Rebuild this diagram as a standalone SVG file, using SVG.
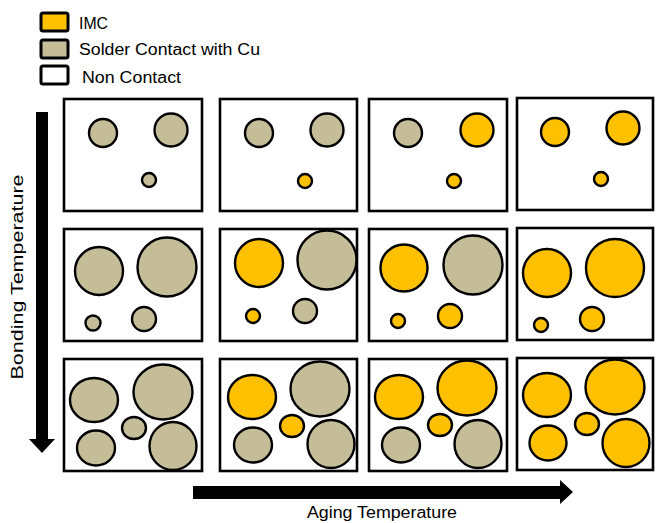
<svg xmlns="http://www.w3.org/2000/svg" width="662" height="523" viewBox="0 0 662 523">
  <style>
    .panel { fill: #ffffff; stroke: #000000; stroke-width: 2.6; }
    .key { stroke: #000000; stroke-width: 3; }
    .imc { fill: #FFC000; stroke: #000000; stroke-width: 2.4; }
    .cu { fill: #C4BD97; stroke: #000000; stroke-width: 2.4; }
    .lbl { font-family: "Liberation Sans", Arial, sans-serif; font-size: 16px; fill: #000000; }
  </style>
  <rect width="662" height="523" fill="#ffffff"/>

  <!-- legend -->
  <g id="legend">
    <rect class="key" x="41" y="13" width="27" height="18" rx="2" fill="#FFC000"/>
    <rect class="key" x="41" y="40" width="27" height="18" rx="2" fill="#C4BD97"/>
    <rect class="key" x="41" y="66" width="27" height="18" rx="2" fill="#ffffff"/>
    <text class="lbl" x="79" y="29" textLength="29" lengthAdjust="spacingAndGlyphs">IMC</text>
    <text class="lbl" x="79" y="55" textLength="181" lengthAdjust="spacingAndGlyphs">Solder Contact with Cu</text>
    <text class="lbl" x="82" y="83" textLength="99" lengthAdjust="spacingAndGlyphs">Non Contact</text>
  </g>

  <!-- axis arrows -->
  <g id="connectors">
    <path d="M36 112 H48 V439 H55 L42 453 L29 439 H36 Z" fill="#000000"/>
    <path d="M193 486 H560 V480 L573 492 L560 504 V499 H193 Z" fill="#000000"/>
  </g>
  <text class="lbl" transform="translate(23 277) rotate(-90)" text-anchor="middle" textLength="205" lengthAdjust="spacingAndGlyphs">Bonding Temperature</text>
  <text class="lbl" x="382" y="518" text-anchor="middle" textLength="150" lengthAdjust="spacingAndGlyphs">Aging Temperature</text>

  <!-- row 1 -->
  <g id="r1c1">
    <rect class="panel" x="64" y="99" width="138" height="112"/>
    <circle class="cu" cx="103" cy="133" r="14"/>
    <circle class="cu" cx="171" cy="130" r="16.5"/>
    <circle class="cu" cx="149" cy="180" r="7"/>
  </g>
  <g id="r1c2">
    <rect class="panel" x="220" y="99" width="137" height="112"/>
    <circle class="cu" cx="259" cy="133" r="14"/>
    <circle class="cu" cx="327" cy="130" r="16.5"/>
    <circle class="imc" cx="305" cy="181" r="7"/>
  </g>
  <g id="r1c3">
    <rect class="panel" x="369" y="99" width="138" height="112"/>
    <circle class="cu" cx="408" cy="133" r="14"/>
    <circle class="imc" cx="477" cy="130" r="16.5"/>
    <circle class="imc" cx="454" cy="181" r="7"/>
  </g>
  <g id="r1c4">
    <rect class="panel" x="517" y="98" width="136" height="112"/>
    <circle class="imc" cx="555" cy="132" r="14"/>
    <circle class="imc" cx="623" cy="128" r="16.5"/>
    <circle class="imc" cx="601" cy="179" r="7"/>
  </g>

  <!-- row 2 -->
  <g id="r2c1">
    <rect class="panel" x="64" y="229" width="138" height="112"/>
    <circle class="cu" cx="99" cy="271" r="24"/>
    <circle class="cu" cx="167" cy="267" r="29.5"/>
    <circle class="cu" cx="93" cy="323" r="7.5"/>
    <circle class="cu" cx="144" cy="319" r="12"/>
  </g>
  <g id="r2c2">
    <rect class="panel" x="220" y="229" width="137" height="112"/>
    <circle class="imc" cx="259" cy="263" r="24"/>
    <circle class="cu" cx="327" cy="260" r="29.5"/>
    <circle class="imc" cx="253" cy="316" r="7"/>
    <circle class="cu" cx="305" cy="311" r="12"/>
  </g>
  <g id="r2c3">
    <rect class="panel" x="369" y="229" width="138" height="112"/>
    <circle class="imc" cx="404" cy="268" r="23.5"/>
    <circle class="cu" cx="473" cy="265" r="29.5"/>
    <circle class="imc" cx="398" cy="321" r="7"/>
    <circle class="imc" cx="450" cy="316" r="12"/>
  </g>
  <g id="r2c4">
    <rect class="panel" x="517" y="228" width="136" height="112"/>
    <circle class="imc" cx="547" cy="273" r="24"/>
    <circle class="imc" cx="615" cy="268" r="29"/>
    <circle class="imc" cx="541" cy="325" r="7"/>
    <circle class="imc" cx="592" cy="319" r="12"/>
  </g>

  <!-- row 3 -->
  <g id="r3c1">
    <rect class="panel" x="64" y="359" width="138" height="112"/>
    <ellipse class="cu" cx="94" cy="400" rx="24" ry="22"/>
    <ellipse class="cu" cx="163" cy="392" rx="29.5" ry="27.5"/>
    <ellipse class="cu" cx="134" cy="428" rx="12" ry="11"/>
    <ellipse class="cu" cx="96" cy="448" rx="19" ry="17.5"/>
    <ellipse class="cu" cx="173" cy="446" rx="23.5" ry="24"/>
  </g>
  <g id="r3c2">
    <rect class="panel" x="220" y="359" width="137" height="112"/>
    <ellipse class="imc" cx="252" cy="397" rx="24" ry="22"/>
    <ellipse class="cu" cx="320" cy="389" rx="29.5" ry="27.5"/>
    <ellipse class="imc" cx="292" cy="426" rx="12" ry="11"/>
    <ellipse class="cu" cx="253" cy="445" rx="19" ry="17.5"/>
    <ellipse class="cu" cx="331" cy="444" rx="23.5" ry="24"/>
  </g>
  <g id="r3c3">
    <rect class="panel" x="369" y="359" width="138" height="112"/>
    <ellipse class="imc" cx="399" cy="397" rx="24" ry="22"/>
    <ellipse class="imc" cx="467" cy="388" rx="29.5" ry="27.5"/>
    <ellipse class="imc" cx="440" cy="425" rx="12" ry="11"/>
    <ellipse class="cu" cx="401" cy="445" rx="19" ry="17.5"/>
    <ellipse class="cu" cx="478" cy="444" rx="23.5" ry="24"/>
  </g>
  <g id="r3c4">
    <rect class="panel" x="517" y="358" width="136" height="112"/>
    <ellipse class="imc" cx="547" cy="395" rx="24" ry="22"/>
    <ellipse class="imc" cx="615" cy="387" rx="29.5" ry="27.5"/>
    <ellipse class="imc" cx="587" cy="424" rx="12" ry="11"/>
    <ellipse class="imc" cx="548" cy="443" rx="18.5" ry="17.5"/>
    <ellipse class="imc" cx="626" cy="443" rx="23.5" ry="24"/>
  </g>
</svg>
